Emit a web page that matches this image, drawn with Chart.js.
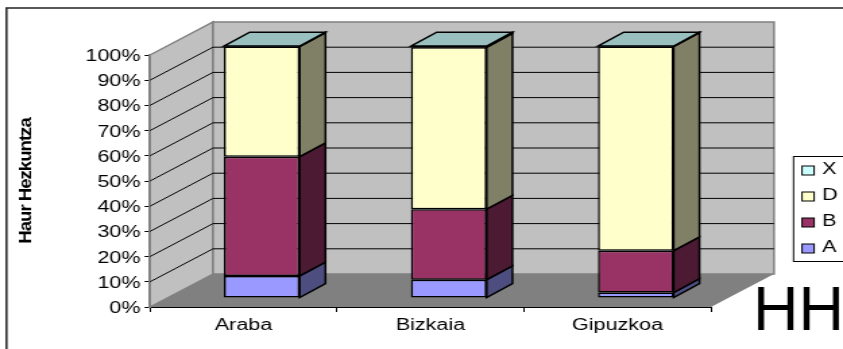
<!DOCTYPE html>
<html>
<head>
<meta charset="utf-8">
<script src="https://cdn.jsdelivr.net/npm/chart.js@4/dist/chart.umd.min.js"></script>
<style>
  html, body { margin: 0; padding: 0; background: #fff; overflow: hidden; }
  /* the original picture is stretched sideways, so the whole canvas is too */
  #chart { display: block; transform-origin: 0 0; transform: scaleX(1.3488); }
</style>
</head>
<body>
<canvas id="chart" width="625" height="349"></canvas>
<script>
const categories = ["Araba", "Bizkaia", "Gipuzkoa"];
const seriesA = [8.8, 7.3, 2.2];
const seriesB = [47.3, 28, 16.6];
const seriesD = [43.7, 64.2, 81];
const seriesX = [0.2, 0.5, 0.2];
const seriesNames = ["A", "B", "D", "X"];
const seriesColors = ["#9999ff", "#993366", "#ffffcc", "#ccffff"];
const axisTitle = "Haur Hezkuntza";
const cornerLabel = "HH";

const stretch = 1.3488;
const wallDx = 63 / stretch;
const wallDy = 33;

function shade(hex, f) {
  const n = parseInt(hex.slice(1), 16);
  const r = Math.round((n >> 16) * f);
  const g = Math.round(((n >> 8) & 255) * f);
  const b = Math.round((n & 255) * f);
  return `rgb(${r},${g},${b})`;
}

function poly(ctx, pts, fill, stroke, width) {
  ctx.beginPath();
  pts.forEach((p, i) => (i ? ctx.lineTo(p[0], p[1]) : ctx.moveTo(p[0], p[1])));
  ctx.closePath();
  if (fill) {
    ctx.fillStyle = fill;
    ctx.fill();
  }
  if (stroke) {
    ctx.strokeStyle = stroke;
    ctx.lineWidth = width || 1;
    ctx.stroke();
  }
}

// walls, floor and gridlines behind the bars
const walls = {
  id: "walls",
  beforeDatasetsDraw(chart) {
    const { ctx, chartArea: a, scales } = chart;
    const dx = wallDx, dy = wallDy;
    ctx.save();
    poly(ctx, [[a.left, a.top], [a.left + dx, a.top - dy], [a.left + dx, a.bottom - dy], [a.left, a.bottom]], "#c0c0c0", "#808080", 1.5);
    poly(ctx, [[a.left + dx, a.top - dy], [a.right + dx, a.top - dy], [a.right + dx, a.bottom - dy], [a.left + dx, a.bottom - dy]], "#c0c0c0", "#808080", 1.5);
    poly(ctx, [[a.left, a.bottom], [a.right, a.bottom], [a.right + dx, a.bottom - dy], [a.left + dx, a.bottom - dy]], "#808080", null);
    ctx.strokeStyle = "#000";
    ctx.lineWidth = 1;
    scales.y.ticks.forEach((t) => {
      if (t.value === 0 || t.value === 100) return;
      const y = scales.y.getPixelForValue(t.value);
      ctx.beginPath();
      ctx.moveTo(a.left, y);
      ctx.lineTo(a.left + dx, y - dy);
      ctx.lineTo(a.right + dx, y - dy);
      ctx.stroke();
    });
    // bars stand in the middle of the floor, shift them in
    ctx.translate(dx * 0.29, -dy * 0.27);
  },
  afterDatasetsDraw(chart) {
    const { ctx } = chart;
    const dx = wallDx * 0.41, dy = wallDy * 0.42;
    chart.data.datasets.forEach((ds, d) => {
      chart.getDatasetMeta(d).data.forEach((bar) => {
        const right = bar.x + bar.width / 2;
        poly(ctx, [[right, bar.y], [right + dx, bar.y - dy], [right + dx, bar.base - dy], [right, bar.base]], shade(ds.backgroundColor, 0.5), "#000", 1.5);
        if (d === chart.data.datasets.length - 1) {
          const left = bar.x - bar.width / 2;
          poly(ctx, [[left, bar.y], [left + dx, bar.y - dy], [right + dx, bar.y - dy], [right, bar.y]], shade(ds.backgroundColor, 0.75), "#000", 1.5);
        }
      });
    });
    ctx.restore();
  },
};

// frame, axis title, legend box and the big HH label
const extras = {
  id: "extras",
  afterDraw(chart) {
    const { ctx, width, height } = chart;
    ctx.save();
    ctx.strokeStyle = "#222";
    ctx.lineWidth = 1.5;
    ctx.beginPath();
    ctx.moveTo(width, 8);
    ctx.lineTo(6.5 / stretch, 8);
    ctx.lineTo(6.5 / stretch, height);
    ctx.stroke();

    // title glyphs are drawn long and squeezed together, as in the picture
    ctx.save();
    ctx.translate(31 / stretch, 181);
    ctx.rotate(-Math.PI / 2);
    ctx.scale(1.43, 1);
    ctx.font = "bold 13px 'Liberation Sans'";
    ctx.letterSpacing = "-0.7px";
    ctx.textAlign = "center";
    ctx.fillStyle = "#000";
    ctx.fillText(axisTitle, 0, 0);
    ctx.restore();

    const boxLeft = 793.5 / stretch;
    ctx.fillStyle = "#fff";
    ctx.strokeStyle = "#000";
    ctx.lineWidth = 1;
    ctx.fillRect(boxLeft, 156.5, width - boxLeft, 105);
    ctx.strokeRect(boxLeft, 156.5, width - boxLeft + 2, 105);
    ctx.font = "16px 'Liberation Sans'";
    ctx.textBaseline = "middle";
    seriesNames.slice().reverse().forEach((name, i) => {
      const y = 170 + i * 26;
      ctx.fillStyle = seriesColors[seriesNames.length - 1 - i];
      ctx.fillRect(802 / stretch, y - 4, 9, 9);
      ctx.strokeRect(802 / stretch, y - 4, 9, 9);
      ctx.fillStyle = "#000";
      ctx.fillText(name, 822 / stretch, y);
    });

    // the big label is not stretched in the picture
    ctx.save();
    ctx.scale(1 / stretch, 1);
    ctx.font = "63px 'Liberation Sans'";
    ctx.textBaseline = "alphabetic";
    ctx.fillText(cornerLabel, 753, 330);
    ctx.restore();
    ctx.restore();
  },
};

new Chart(document.getElementById("chart"), {
  type: "bar",
  data: {
    labels: categories,
    datasets: [seriesA, seriesB, seriesD, seriesX].map((values, i) => ({
      label: seriesNames[i],
      data: values,
      backgroundColor: seriesColors[i],
      borderColor: "#000",
      borderWidth: 1.5,
      borderSkipped: false,
    })),
  },
  options: {
    responsive: false,
    animation: false,
    barPercentage: 0.405,
    categoryPercentage: 1,
    layout: { padding: { left: 6, top: 55, right: 625 - 711 / stretch, bottom: 0 } },
    plugins: { legend: { display: false }, tooltip: { enabled: false } },
    scales: {
      x: {
        stacked: true,
        grid: { offset: true, drawOnChartArea: false, color: "#000", tickLength: 5 },
        border: { color: "#000", width: 1 },
        ticks: { color: "#000", font: { family: "Liberation Sans", size: 16 }, padding: 4 },
        afterFit(scale) { scale.height = 349 - 307; },
      },
      y: {
        stacked: true,
        min: 0,
        max: 100,
        ticks: {
          stepSize: 10,
          color: "#000",
          font: { family: "Liberation Sans", size: 16 },
          padding: 3,
          labelOffset: 1.5,
          callback: (v) => v + "%",
        },
        grid: { drawOnChartArea: false, color: "#000", tickLength: 4 },
        border: { color: "#808080", width: 1.5 },
        afterFit(scale) { scale.width = 150 / stretch - 6; },
      },
    },
  },
  plugins: [walls, extras],
});
</script>
</body>
</html>
